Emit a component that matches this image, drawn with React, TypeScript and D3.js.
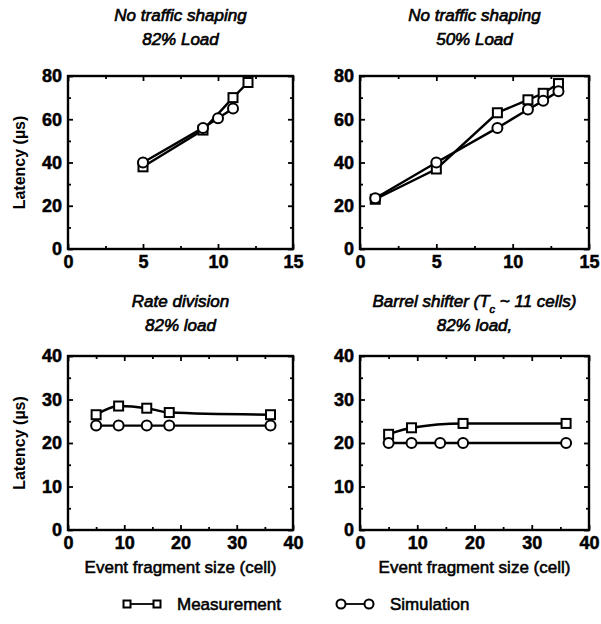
import React, { useEffect, useRef } from "react";
import * as d3 from "d3";

// No traffic shaping, 82% load  [fragment size, latency]
const nts82Measurement: [number, number][] = [[5, 38], [9, 55], [11, 70], [12, 77]];
const nts82Simulation: [number, number][] = [[5, 40], [9, 56], [10, 60.5], [11, 65]];

// No traffic shaping, 50% load
const nts50Measurement: [number, number][] = [[1, 23], [5, 37], [9, 63], [11, 69], [12, 72], [13, 76.5]];
const nts50Simulation: [number, number][] = [[1, 23.5], [5, 40], [9, 56], [11, 64.5], [12, 68.5], [13, 73]];

// Rate division, 82% load
const rateMeasurement: [number, number][] = [[5, 26.5], [9, 28.5], [14, 28], [18, 27], [36, 26.5]];
const rateSimulation: [number, number][] = [[5, 24], [9, 24], [14, 24], [18, 24], [36, 24]];

// Barrel shifter, 82% load
const barrelMeasurement: [number, number][] = [[5, 22], [9, 23.5], [18, 24.5], [36, 24.5]];
const barrelSimulation: [number, number][] = [[5, 20], [9, 20], [14, 20], [18, 20], [36, 20]];

const topXTicks = [0, 5, 10, 15];
const topYTicks = [0, 20, 40, 60, 80];
const bottomXTicks = [0, 10, 20, 30, 40];
const bottomYTicks = [0, 10, 20, 30, 40];

const yTitle = "Latency (\u00b5s)";
const xTitle = "Event fragment size (cell)";
const legendLabels = ["Measurement", "Simulation"];

const FONT = "'Liberation Sans', Arial, Helvetica, sans-serif";

type Panel = {
  title: string[];
  left: number; right: number; top: number; bottom: number;
  xTicks: number[]; yTicks: number[]; xMinor: number; yMinor: number;
  meas: [number, number][]; sim: [number, number][];
  smooth: boolean; yLabel: boolean; xLabel: boolean; titleGap: number;
};

const panels: Panel[] = [
  { title: ["No traffic shaping", "82% Load"], left: 68, right: 293, top: 76, bottom: 249,
    xTicks: topXTicks, yTicks: topYTicks, xMinor: 2.5, yMinor: 10, titleGap: 55,
    meas: nts82Measurement, sim: nts82Simulation, smooth: false, yLabel: true, xLabel: false },
  { title: ["No traffic shaping", "50% Load"], left: 360, right: 589, top: 76, bottom: 249,
    xTicks: topXTicks, yTicks: topYTicks, xMinor: 2.5, yMinor: 10, titleGap: 55,
    meas: nts50Measurement, sim: nts50Simulation, smooth: false, yLabel: false, xLabel: false },
  { title: ["Rate division", "82% load"], left: 68, right: 293, top: 356, bottom: 530,
    xTicks: bottomXTicks, yTicks: bottomYTicks, xMinor: 5, yMinor: 5, titleGap: 49,
    meas: rateMeasurement, sim: rateSimulation, smooth: true, yLabel: true, xLabel: true },
  { title: ["BARREL", "82% load,"], left: 360, right: 589, top: 356, bottom: 530,
    xTicks: bottomXTicks, yTicks: bottomYTicks, xMinor: 5, yMinor: 5, titleGap: 49,
    meas: barrelMeasurement, sim: barrelSimulation, smooth: true, yLabel: false, xLabel: true },
];

function drawSquare(g: any, cx: number, cy: number, s: number) {
  g.append("rect").attr("x", cx - s / 2).attr("y", cy - s / 2).attr("width", s).attr("height", s)
    .attr("fill", "#fff").attr("stroke", "#000").attr("stroke-width", 2);
}
function drawCircle(g: any, cx: number, cy: number, r: number) {
  g.append("circle").attr("cx", cx).attr("cy", cy).attr("r", r)
    .attr("fill", "#fff").attr("stroke", "#000").attr("stroke-width", 2);
}

function drawPanel(svg: any, p: Panel) {
  const xMax = p.xTicks[p.xTicks.length - 1];
  const yMax = p.yTicks[p.yTicks.length - 1];
  const x = d3.scaleLinear().domain([0, xMax]).range([p.left, p.right]);
  const y = d3.scaleLinear().domain([0, yMax]).range([p.bottom, p.top]);
  const g = svg.append("g");

  const xMinorTicks = d3.range(0, xMax + 1e-6, p.xMinor).filter((v) => !p.xTicks.includes(v));
  const yMinorTicks = d3.range(0, yMax + 1e-6, p.yMinor).filter((v) => !p.yTicks.includes(v));

  const axes = [
    { ax: d3.axisBottom(x).tickValues(p.xTicks).tickSizeInner(-5), tr: `translate(0,${p.bottom})`, labels: true },
    { ax: d3.axisBottom(x).tickValues(xMinorTicks).tickSizeInner(-3), tr: `translate(0,${p.bottom})`, labels: false },
    { ax: d3.axisTop(x).tickValues(p.xTicks).tickSizeInner(-5), tr: `translate(0,${p.top})`, labels: false },
    { ax: d3.axisTop(x).tickValues(xMinorTicks).tickSizeInner(-3), tr: `translate(0,${p.top})`, labels: false },
    { ax: d3.axisLeft(y).tickValues(p.yTicks).tickSizeInner(-5), tr: `translate(${p.left},0)`, labels: true },
    { ax: d3.axisLeft(y).tickValues(yMinorTicks).tickSizeInner(-3), tr: `translate(${p.left},0)`, labels: false },
    { ax: d3.axisRight(y).tickValues(p.yTicks).tickSizeInner(-5), tr: `translate(${p.right},0)`, labels: false },
    { ax: d3.axisRight(y).tickValues(yMinorTicks).tickSizeInner(-3), tr: `translate(${p.right},0)`, labels: false },
  ];
  axes.forEach((a) => {
    a.ax.tickSizeOuter(0).tickPadding(6);
    if (!a.labels) a.ax.tickFormat(() => "");
    const ag = g.append("g").attr("transform", a.tr).call(a.ax);
    ag.select(".domain").remove();
    ag.selectAll(".tick line").attr("stroke", "#000").attr("stroke-width", 1.8);
    ag.selectAll("text").attr("fill", "#000").attr("stroke", "#000").attr("stroke-width", 0.5)
      .style("font-family", FONT).style("font-size", "18px").style("font-weight", "bold");
  });

  g.append("rect").attr("x", p.left).attr("y", p.top)
    .attr("width", p.right - p.left).attr("height", p.bottom - p.top)
    .attr("fill", "none").attr("stroke", "#000").attr("stroke-width", 2.4);

  const line = d3.line<[number, number]>()
    .x((d) => x(d[0])).y((d) => y(d[1]))
    .curve(p.smooth ? d3.curveMonotoneX : d3.curveLinear);

  const series = [
    { data: p.meas, marker: "square" },
    { data: p.sim, marker: "circle" },
  ];
  series.forEach((s) => {
    g.append("path").datum(s.data).attr("d", line).attr("fill", "none")
      .attr("stroke", "#000").attr("stroke-width", 2.4);
  });
  series.forEach((s) => {
    s.data.forEach((d) => {
      if (s.marker === "square") drawSquare(g, x(d[0]), y(d[1]), 9);
      else drawCircle(g, x(d[0]), y(d[1]), 5);
    });
  });

  // titles
  const cx = (p.left + p.right) / 2;
  const titleY = p.top - p.titleGap;
  p.title.forEach((t, i) => {
    const tx = g.append("text").attr("x", cx).attr("y", titleY + i * 24)
      .attr("text-anchor", "middle").style("font-family", FONT).style("font-size", "17px")
      .style("font-style", "italic").attr("stroke", "#000").attr("stroke-width", 0.65);
    if (t === "BARREL") {
      tx.append("tspan").text("Barrel shifter (T");
      tx.append("tspan").text("c").attr("baseline-shift", "sub").style("font-size", "11px");
      tx.append("tspan").text(" ~ 11 cells)");
    } else {
      tx.text(t);
    }
  });

  if (p.yLabel) {
    const my = (p.top + p.bottom) / 2;
    g.append("text").attr("transform", `translate(25,${my}) rotate(-90)`)
      .attr("text-anchor", "middle").style("font-family", FONT).style("font-size", "16px")
      .style("font-weight", "bold").text(yTitle);
  }
  if (p.xLabel) {
    g.append("text").attr("x", cx).attr("y", p.bottom + 43)
      .attr("text-anchor", "middle").style("font-family", FONT).style("font-size", "17px")
      .attr("stroke", "#000").attr("stroke-width", 0.55).text(xTitle);
  }
}

export default function App() {
  const ref = useRef<SVGSVGElement>(null);

  useEffect(() => {
    const svg = d3.select(ref.current);
    svg.selectAll("*").remove();
    svg.append("rect").attr("width", 601).attr("height", 624).attr("fill", "#fff");

    panels.forEach((p) => drawPanel(svg, p));

    // legend
    const lg = svg.append("g");
    const ly = 604;
    lg.append("line").attr("x1", 127).attr("x2", 157).attr("y1", ly).attr("y2", ly)
      .attr("stroke", "#000").attr("stroke-width", 1.8);
    drawSquare(lg, 127, ly, 7);
    drawSquare(lg, 157, ly, 7);
    lg.append("line").attr("x1", 341).attr("x2", 369).attr("y1", ly).attr("y2", ly)
      .attr("stroke", "#000").attr("stroke-width", 1.8);
    drawCircle(lg, 341, ly, 4.5);
    drawCircle(lg, 369, ly, 4.5);
    [177, 390].forEach((lx, i) => {
      lg.append("text").attr("x", lx).attr("y", ly + 6).style("font-family", FONT)
        .style("font-size", "17px").attr("stroke", "#000").attr("stroke-width", 0.55)
        .text(legendLabels[i]);
    });
  }, []);

  return (
    <svg ref={ref} width={601} height={624}
      style={{ position: "absolute", left: 0, top: 0, display: "block" }} />
  );
}
